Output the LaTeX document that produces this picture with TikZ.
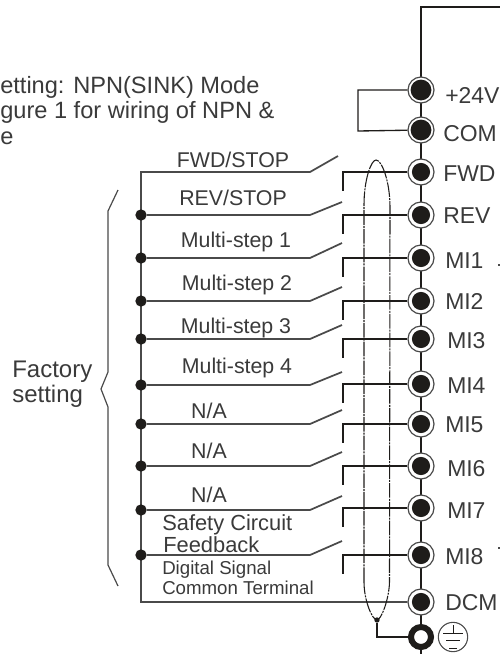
\documentclass[tikz,border=0pt]{standalone}
\usepackage{fontspec}
\setmainfont{Liberation Sans}
\usetikzlibrary{calc}
\definecolor{ink}{HTML}{1E1C1A}
\definecolor{txt}{HTML}{3A3A3A}
\definecolor{wire}{HTML}{4A4A4A}
\tikzset{
  x=0.75pt,y=-0.75pt,
  txtl/.style={inner sep=0pt,text=txt,anchor=base west},
  txtc/.style={inner sep=0pt,text=txt,anchor=base},
  termlbl/.style={txtl,font=\fontsize{17.2}{17.2}\selectfont},
  swlbl/.style={txtc,font=\fontsize{16}{16}\selectfont},
  headlbl/.style={txtl,font=\fontsize{17.7}{17.7}\selectfont},
  factlbl/.style={txtl,font=\fontsize{18}{18}\selectfont},
  safelbl/.style={txtl,font=\fontsize{16.4}{16.4}\selectfont},
  commlbl/.style={txtl,font=\fontsize{14}{14}\selectfont},
  term/.style={circle,draw=wire,line width=0.9pt,fill=white,minimum size=19.5pt,inner sep=0pt},
  gndterm/.style={circle,draw=ink,line width=4.5pt,fill=white,minimum size=15pt,inner sep=0pt},
  junction/.style={circle,fill=ink,minimum size=8.5pt,inner sep=0pt},
  tinyj/.style={circle,fill=ink,minimum size=4pt,inner sep=0pt},
  buswire/.style={draw=wire,line width=1.3pt},
  sigwire/.style={draw=ink,line width=1pt},
  shieldline/.style={draw=ink,line width=0.8pt,dash pattern=on 11pt off 0.8pt on 1.5pt off 0.8pt},
}
\begin{document}
\begin{tikzpicture}
\useasboundingbox (0,0) rectangle (500,654);
% spine and top wire
\coordinate (topR) at (500,7);
\coordinate (topL) at (421,7);
\coordinate (spineEnd) at (421,654);
\coordinate (busTop) at (141,172);
\coordinate (busBot) at (141,602);
\draw[sigwire,line width=1.1pt] (topR) -- (topL) -- (spineEnd);
% terminals
\foreach \n/\yy/\lbl/\bl/\lx in {24/90/+24V/103/445,com/130/COM/141/443,fwd/172/FWD/181/443,rev/215/REV/223/443,a/258/MI1/268/445,b/301/MI2/309/445,c/339/MI3/348/447,d/384/MI4/393/447,e/424/MI5/432/445,f/466/MI6/476/447,g/508/MI7/518/447,h/555/MI8/564/445,dcm/602/DCM/610/445}{
  \node[term] (t\n) at (421,\yy) {};
  \node[termlbl] (l\n) at (\lx,\bl) {\lbl};
}
\foreach \n in {fwd,rev,a,b,c,d,e,f,g,h,dcm}{\fill[ink] (t\n) circle (6.8pt);}
\foreach \n in {24,com}{\fill[ink] (t\n) circle (7.8pt);}
\node[gndterm] (tgnd) at (421,637) {};
% jumper
\coordinate (jA) at (358,90);
\coordinate (jB) at (358,131);
\draw[sigwire] (t24) -- (jA) -- (jB) -- (tcom);
% bus
\draw[buswire] (tdcm) -- (busBot) -- (busTop) -- (310,172) -- (338,156);
% switches
\foreach \n/\yy/\yj/\ye in {rev/215/215/202,a/258/258/243,b/301/301/287,c/339/339/325,d/384/385/372,e/424/424/410,f/466/466/452,g/508/510/496,h/555/555/541}{
  \node[junction] (j\n) at (141,\yj) {};
  \coordinate (k\n) at (310,\yj);
  \coordinate (s\n) at (342,\ye);
  \draw[buswire] (j\n) -- (k\n) -- (s\n);
  \coordinate (p\n) at (343,\yy);
  \coordinate (q\n) at (343,\yy+19);
  \draw[sigwire] (t\n) -- (p\n) -- (q\n);
}
\coordinate (pfwd) at (343,172);
\coordinate (qfwd) at (343,191);
\draw[sigwire] (tfwd) -- (pfwd) -- (qfwd);
% shield
\node[tinyj] (sg) at (377,620) {};
\draw[shieldline] (364,582) -- (364,205) .. controls (364,180) and (371,160) .. (376,160) .. controls (382,160) and (390,182) .. (390,207) -- (389.5,582) .. controls (389,600) and (381,620) .. (sg.center) .. controls (372,620) and (364,600) .. cycle;
\draw[sigwire] (sg) -- (377,637) -- (tgnd);
% earth symbol
\node[circle,draw=wire,line width=0.8pt,minimum size=22pt,inner sep=0pt] (earth) at (453,637) {};
\draw[sigwire,line width=0.7pt] (453,625) -- (453,633);
\draw[sigwire,line width=0.7pt] (443,633) -- (463,633);
\draw[sigwire,line width=0.7pt] (446,640) -- (460,640);
\draw[sigwire,line width=0.7pt] (449,648) -- (457,648);
% brace
\draw[buswire,line width=0.9pt] (118,190) -- (108,211) -- (108,372) -- (101,389) -- (108,407) -- (108,565) -- (118,586);
% stray ink at the right edge
\fill[wire] (498,264) rectangle (500,266);
\fill[wire] (498,547) rectangle (500,549);
% texts
\node[headlbl] (h1) at (0,93) {etting: NPN(SINK) Mode};
\node[headlbl] (h2) at (0,118) {gure 1 for wiring of NPN \&};
\node[headlbl] (h3) at (0,144) {e};
\node[factlbl] (fa) at (12,377) {Factory};
\node[factlbl] (fb) at (12,402) {setting};
\node[swlbl] (n1) at (233,167) {FWD/STOP};
\node[swlbl] (n2) at (233,205) {REV/STOP};
\node[swlbl] (n3) at (236,247) {Multi-step 1};
\node[swlbl] (n4) at (237,290) {Multi-step 2};
\node[swlbl] (n5) at (236,333) {Multi-step 3};
\node[swlbl] (n6) at (237,373) {Multi-step 4};
\node[swlbl] (n7) at (209,418) {N/A};
\node[swlbl] (n8) at (209,458) {N/A};
\node[swlbl] (n9) at (209,502) {N/A};
\node[safelbl] (n10) at (162,530) {Safety Circuit};
\node[safelbl] (n11) at (163,552) {Feedback};
\node[commlbl] (n12) at (162,574) {Digital Signal};
\node[commlbl] (n13) at (162,594) {Common Terminal};
\end{tikzpicture}
\end{document}
